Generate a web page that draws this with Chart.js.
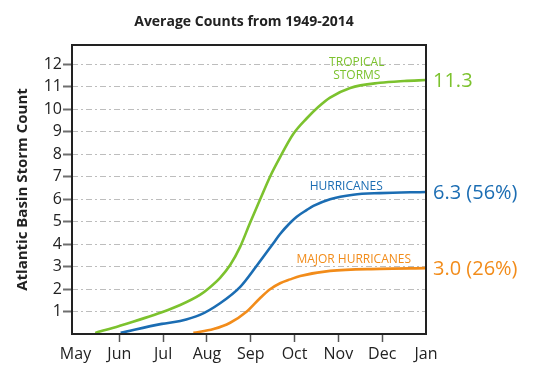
<!DOCTYPE html>
<html>
<head>
<meta charset="utf-8">
<script src="https://cdn.jsdelivr.net/npm/chart.js@4.4.0/dist/chart.umd.min.js"></script>
<style>
    html, body { margin: 0; padding: 0; background: #fff; }
    #wrap { width: 534px; height: 375px; }
</style>
</head>
<body>
<div id="wrap"><canvas id="stormChart" width="534" height="375"></canvas></div>
<script>
// Month ticks (May = 0 ... Jan = 8)
const monthLabels = ["May", "Jun", "Jul", "Aug", "Sep", "Oct", "Nov", "Dec", "Jan"];
const yTickValues = [1, 2, 3, 4, 5, 6, 7, 8, 9, 10, 11, 12];

// Tropical storms (cumulative average count)
const tropicalMonth = [0.45, 1.0, 1.97, 2.39, 2.84, 3.05, 3.3, 3.53, 3.76, 3.98, 4.21, 4.44, 4.67, 4.97, 5.28, 5.54, 5.81, 6.27, 6.95, 7.5, 8.0];
const tropicalCount = [0.05, 0.36, 0.97, 1.29, 1.74, 2.05, 2.5, 3.07, 3.89, 4.93, 5.97, 7.0, 7.87, 8.9, 9.6, 10.1, 10.52, 10.95, 11.18, 11.26, 11.3];

// Hurricanes
const hurricaneMonth = [1.03, 1.97, 2.39, 2.84, 3.3, 3.76, 4.14, 4.52, 4.67, 4.9, 5.05, 5.28, 5.43, 5.81, 6.34, 6.95, 8.0];
const hurricaneCount = [0.05, 0.45, 0.58, 0.85, 1.37, 2.1, 3.05, 4.05, 4.45, 4.95, 5.22, 5.52, 5.7, 6.0, 6.2, 6.27, 6.32];

// Major hurricanes
const majorMonth = [2.69, 3.15, 3.53, 3.91, 4.21, 4.44, 4.67, 4.9, 5.13, 5.81, 6.95, 8.0];
const majorCount = [0.05, 0.22, 0.5, 1.0, 1.59, 1.99, 2.26, 2.43, 2.58, 2.81, 2.9, 2.93];

const seriesNames = ["TROPICAL STORMS", "HURRICANES", "MAJOR HURRICANES"];
const endLabels = ["11.3", "6.3 (56%)", "3.0 (26%)"];

const GREEN = "#7cc22e";
const BLUE = "#1b6db3";
const ORANGE = "#f28c1a";
const FONT = "'Open Sans', 'DejaVu Sans', sans-serif";

const toPoints = (xs, ys) => xs.map((x, i) => ({ x: x, y: ys[i] }));

// title, frame and in-chart labels
const decorPlugin = {
    id: "decor",
    afterDraw: (chart) => {
        const { ctx, chartArea, scales } = chart;
        const xs = scales.x, ys = scales.y;
        ctx.save();

        // frame around the plot
        ctx.strokeStyle = "#222";
        ctx.lineWidth = 2;
        ctx.strokeRect(chartArea.left, chartArea.top, chartArea.right - chartArea.left, chartArea.bottom - chartArea.top);

        // title
        ctx.fillStyle = "#222";
        ctx.font = "bold 14px " + FONT;
        ctx.textAlign = "center";
        ctx.textBaseline = "middle";
        ctx.fillText("Average Counts from 1949-2014", 244, 22);

        // series names inside the plot
        ctx.font = "12px " + FONT;
        ctx.fillStyle = GREEN;
        ctx.fillText("TROPICAL", xs.getPixelForValue(6.42), ys.getPixelForValue(12.09));
        ctx.fillText("STORMS", xs.getPixelForValue(6.42), ys.getPixelForValue(11.5));
        ctx.fillStyle = BLUE;
        ctx.fillText(seriesNames[1], xs.getPixelForValue(6.18), ys.getPixelForValue(6.55));
        ctx.fillStyle = ORANGE;
        ctx.fillText(seriesNames[2], xs.getPixelForValue(6.35), ys.getPixelForValue(3.33));

        // end values on the right
        ctx.font = "20px " + FONT;
        ctx.textAlign = "left";
        const colors = [GREEN, BLUE, ORANGE];
        const lasts = [tropicalCount, hurricaneCount, majorCount].map(a => a[a.length - 1]);
        lasts.forEach((v, i) => {
            ctx.fillStyle = colors[i];
            ctx.fillText(endLabels[i], chartArea.right + 7, ys.getPixelForValue(v) + 1);
        });
        ctx.restore();
    },
};

const ctx = document.getElementById("stormChart").getContext("2d");
const chart = new Chart(ctx, {
    type: "line",
    data: {
        datasets: [
            { label: seriesNames[0], data: toPoints(tropicalMonth, tropicalCount), borderColor: GREEN },
            { label: seriesNames[1], data: toPoints(hurricaneMonth, hurricaneCount), borderColor: BLUE },
            { label: seriesNames[2], data: toPoints(majorMonth, majorCount), borderColor: ORANGE },
        ],
    },
    options: {
        responsive: false,
        animation: false,
        events: [],
        elements: {
            line: { borderWidth: 2.6, cubicInterpolationMode: "monotone", fill: false },
            point: { radius: 0 },
        },
        layout: {
            padding: { top: 45, right: 108, left: 0, bottom: 0 },
        },
        scales: {
            x: {
                type: "linear",
                min: -0.08,
                max: 8,
                afterBuildTicks: (scale) => {
                    scale.ticks = monthLabels.map((m, i) => ({ value: i }));
                },
                afterFit: (scale) => { scale.height = 41; },
                border: { display: false },
                grid: {
                    drawOnChartArea: false,
                    drawTicks: true,
                    tickLength: 8,
                    tickWidth: 1.5,
                    tickColor: (c) => (c.index === 0 || c.index === 8) ? "rgba(0,0,0,0)" : "#555",
                },
                ticks: {
                    autoSkip: false,
                    maxRotation: 0,
                    padding: 3,
                    color: "#222",
                    font: { family: FONT, size: 16 },
                    callback: (value) => monthLabels[value],
                },
            },
            y: {
                min: 0,
                max: 12.86,
                afterBuildTicks: (scale) => {
                    scale.ticks = yTickValues.map(v => ({ value: v }));
                },
                afterFit: (scale) => { scale.width = 72; },
                border: { display: false, dash: [6, 3, 2, 3] },
                grid: {
                    color: "#bdbdbd",
                    lineWidth: 1,
                    tickLength: 9,
                    tickWidth: 2,
                    tickColor: "#6e6e6e",
                    tickBorderDash: [],
                },
                ticks: {
                    padding: 1,
                    color: "#222",
                    font: { family: FONT, size: 16 },
                    callback: (value) => String(value),
                },
                title: {
                    display: true,
                    text: "Atlantic Basin Storm Count",
                    color: "#222",
                    font: { family: FONT, size: 15, weight: "bold" },
                    padding: { top: 14, bottom: 0 },
                },
            },
        },
        plugins: {
            legend: { display: false },
            tooltip: { enabled: false },
            title: { display: false },
        },
    },
    plugins: [decorPlugin],
});
</script>
</body>
</html>
